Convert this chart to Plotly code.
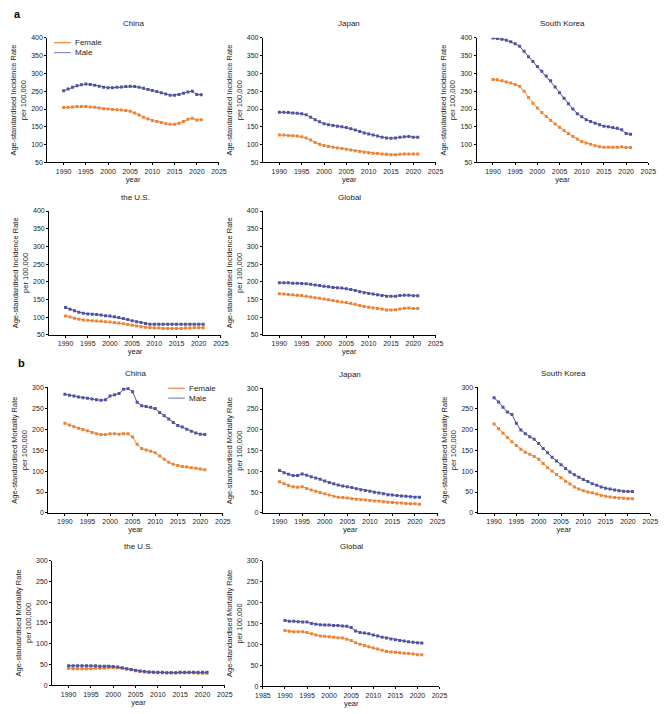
import plotly.graph_objects as go

years = list(range(1990, 2022))

# ---- a: Age-standardised incidence rate ----
inc_china_f = [204, 205, 206, 207, 207, 207, 206, 205, 203, 201, 200, 199, 198, 197, 196, 194,
               189, 183, 177, 172, 168, 165, 162, 159, 157, 157, 160, 165, 171, 174, 169, 170]
inc_china_m = [251, 256, 261, 265, 268, 270, 269, 267, 264, 261, 260, 260, 261, 262, 263, 264,
               263, 261, 258, 255, 252, 249, 246, 242, 239, 239, 241, 244, 248, 250, 241, 240]
inc_japan_f = [127, 127, 126, 125, 124, 122, 119, 113, 106, 101, 98, 95, 93, 91, 89, 87,
               85, 83, 81, 79, 77, 76, 75, 74, 73, 72, 72, 73, 74, 74, 74, 74]
inc_japan_m = [191, 191, 190, 189, 188, 187, 184, 177, 170, 164, 159, 156, 154, 152, 150, 148,
               145, 141, 137, 133, 130, 127, 124, 121, 119, 118, 119, 121, 122, 123, 121, 121]
inc_korea_f = [283, 282, 279, 276, 273, 269, 264, 250, 232, 216, 203, 190, 179, 168, 158, 149,
               140, 131, 123, 116, 109, 105, 101, 97, 94, 93, 93, 93, 93, 94, 92, 92]
inc_korea_m = [399, 398, 396, 393, 389, 383, 376, 362, 347, 333, 319, 306, 293, 279, 262, 246,
               230, 215, 200, 187, 178, 170, 165, 160, 156, 152, 150, 148, 146, 142, 131, 129]
inc_us_f = [103, 100, 97, 94, 92, 91, 90, 89, 88, 87, 86, 85, 83, 81, 79, 77,
            75, 73, 71, 70, 69, 69, 68, 68, 68, 68, 68, 69, 69, 70, 70, 70]
inc_us_m = [127, 122, 118, 114, 111, 109, 108, 107, 106, 104, 103, 101, 99, 96, 93, 90,
            87, 85, 82, 80, 80, 80, 80, 80, 80, 80, 80, 80, 80, 80, 80, 80]
inc_global_f = [166, 165, 164, 163, 162, 161, 159, 157, 155, 153, 151, 149, 147, 145, 143, 141,
                139, 136, 133, 130, 128, 126, 124, 122, 120, 120, 121, 123, 125, 126, 124, 124]
inc_global_m = [197, 197, 197, 196, 196, 195, 194, 193, 191, 189, 187, 186, 184, 183, 182, 180,
                178, 175, 172, 169, 167, 165, 163, 161, 159, 159, 159, 161, 162, 162, 160, 160]

# ---- b: Age-standardised mortality rate ----
mor_china_f = [214, 210, 206, 202, 199, 196, 192, 189, 187, 187, 189, 189, 188, 189, 189, 181,
               164, 154, 150, 147, 144, 136, 128, 121, 116, 113, 111, 110, 108, 107, 105, 103]
mor_china_m = [283, 281, 279, 277, 275, 274, 272, 270, 269, 270, 279, 282, 285, 295, 297, 289,
               264, 256, 254, 252, 249, 240, 232, 224, 216, 209, 205, 200, 195, 191, 188, 187]
mor_japan_f = [75, 70, 66, 63, 62, 63, 59, 55, 52, 49, 46, 43, 40, 38, 37, 36,
               34, 33, 32, 31, 30, 29, 28, 27, 26, 25, 24, 24, 23, 22, 22, 21]
mor_japan_m = [102, 97, 93, 90, 90, 94, 91, 87, 84, 81, 77, 73, 70, 67, 65, 63,
               61, 58, 56, 54, 52, 50, 48, 46, 44, 43, 42, 41, 40, 39, 38, 38]
mor_korea_f = [212, 201, 190, 180, 170, 161, 152, 145, 140, 135, 128, 118, 108, 100, 92, 84,
               76, 69, 62, 57, 53, 50, 48, 45, 42, 40, 38, 37, 36, 35, 34, 34]
mor_korea_m = [275, 265, 252, 241, 235, 214, 198, 189, 182, 176, 166, 154, 144, 133, 124, 115,
               106, 98, 91, 85, 80, 75, 70, 66, 62, 59, 57, 55, 53, 52, 51, 51]
mor_us_f = [41, 40, 40, 40, 40, 40, 41, 41, 41, 42, 42, 42, 41, 39, 37, 35,
            33, 32, 31, 31, 30, 30, 30, 30, 30, 30, 30, 30, 30, 29, 29, 29]
mor_us_m = [47, 47, 47, 47, 47, 47, 47, 46, 46, 46, 45, 44, 42, 40, 38, 36,
            34, 33, 32, 31, 31, 31, 30, 30, 30, 31, 31, 31, 31, 31, 31, 31]
mor_global_f = [133, 131, 130, 130, 130, 128, 125, 122, 120, 119, 118, 117, 116, 115, 112, 109,
                104, 100, 97, 94, 91, 89, 86, 83, 82, 81, 80, 79, 78, 77, 75, 75]
mor_global_m = [157, 155, 155, 154, 153, 153, 150, 148, 147, 146, 146, 145, 145, 144, 143, 140,
                132, 128, 127, 125, 122, 120, 117, 115, 113, 111, 109, 108, 106, 105, 104, 103]

titles = ["China", "Japan", "South Korea", "the U.S.", "Global",
          "China", "Japan", "South Korea", "the U.S.", "Global"]
female_series = [inc_china_f, inc_japan_f, inc_korea_f, inc_us_f, inc_global_f,
                 mor_china_f, mor_japan_f, mor_korea_f, mor_us_f, mor_global_f]
male_series = [inc_china_m, inc_japan_m, inc_korea_m, inc_us_m, inc_global_m,
               mor_china_m, mor_japan_m, mor_korea_m, mor_us_m, mor_global_m]
legend_names = ["Female", "Male"]
inc_ticks = [50, 100, 150, 200, 250, 300, 350, 400]
mor_ticks = [0, 50, 100, 150, 200, 250, 300]
year_ticks = [1985, 1990, 1995, 2000, 2005, 2010, 2015, 2020, 2025]

# page has an 8px body margin; size figure to fit the 669x714 window
OFF = 8
W, H = 669 - OFF, 714 - OFF
ORANGE = "#EC8436"
BLUE = "#50539E"
LEG_BLUE = "#8487BE"
FONT = "Liberation Sans, Arial, sans-serif"
TXT = "#222222"


def px(x):
    return (x - OFF) / W


def py(y):
    return 1 - (y - OFF) / H


# pixel boxes in window coordinates (left, right, top, bottom)
boxes = [
    (40, 216, 34, 160), (261, 438, 34, 160), (480, 656, 34, 160),
    (42, 218, 209, 334), (261, 438, 209, 334),
    (41, 220, 387, 514), (261, 440, 388, 514), (481, 658, 387, 514),
    (45, 222, 562, 688), (261, 442, 562, 689),
]

fig = go.Figure()
layout = dict(
    width=W, height=H, margin=dict(l=0, r=0, t=0, b=0),
    paper_bgcolor="white", plot_bgcolor="white",
    font=dict(family=FONT, size=7, color=TXT),
    showlegend=False,
)
annotations = []
shapes = []

for i in range(10):
    n = i + 1
    xa = "x" if n == 1 else f"x{n}"
    ya = "y" if n == 1 else f"y{n}"
    l, r, t, b = boxes[i]
    is_inc = i < 5
    fig.add_trace(go.Scatter(x=years, y=female_series[i], xaxis=xa, yaxis=ya,
                             mode="lines+markers", line=dict(color=ORANGE, width=1),
                             marker=dict(color=ORANGE, size=3, symbol="square"),
                             name="Female"))
    fig.add_trace(go.Scatter(x=years, y=male_series[i], xaxis=xa, yaxis=ya,
                             mode="lines+markers", line=dict(color=BLUE, width=1),
                             marker=dict(color=BLUE, size=3, symbol="square"),
                             name="Male"))
    xr = [1985, 2025] if i == 9 else [1986.3, 2025]
    xt = year_ticks if i == 9 else year_ticks[1:]
    layout[f"xaxis{n}"] = dict(
        domain=[px(l), px(r)], anchor=ya, range=xr, tickvals=xt,
        showline=True, linecolor="black", linewidth=1, ticks="outside", ticklen=2,
        tickcolor="black", tickfont=dict(size=7, color=TXT), showgrid=False, zeroline=False,
        title=dict(text="year", font=dict(size=7.5, color=TXT), standoff=2),
    )
    layout[f"yaxis{n}"] = dict(
        domain=[py(b), py(t)], anchor=xa,
        range=[50, 400] if is_inc else [0, 300],
        tickvals=inc_ticks if is_inc else mor_ticks,
        showline=True, linecolor="black", linewidth=1, ticks="outside", ticklen=2,
        tickcolor="black", tickfont=dict(size=7, color=TXT), showgrid=False, zeroline=False,
        title=dict(text=("Age-standardised Incidence Rate" if is_inc else
                         "Age-standardised Mortality Rate") + "<br>per 100,000",
                   font=dict(size=7.5, color=TXT), standoff=3),
    )
    annotations.append(dict(text=titles[i], x=px((l + r) / 2), y=py(t - 14),
                            xref="paper", yref="paper", showarrow=False,
                            font=dict(size=8, color=TXT), xanchor="center", yanchor="middle"))

# legends (line-only keys) for panel a China and panel b China
for (lx, ly) in [(47, 39), (164, 388)]:
    for k, (nm, col) in enumerate(zip(legend_names, [ORANGE, LEG_BLUE])):
        yy = ly + 10 * k
        shapes.append(dict(type="line", xref="paper", yref="paper",
                           x0=px(lx), x1=px(lx + 17), y0=py(yy), y1=py(yy),
                           line=dict(color=col, width=1.2)))
        annotations.append(dict(text=nm, x=px(lx + 19), y=py(yy), xref="paper", yref="paper",
                                showarrow=False, font=dict(size=8, color=TXT),
                                xanchor="left", yanchor="middle"))

annotations.append(dict(text="<b>a</b>", x=px(4), y=py(10), xref="paper", yref="paper",
                        showarrow=False, font=dict(size=11, color="black"),
                        xanchor="left", yanchor="middle"))
annotations.append(dict(text="<b>b</b>", x=px(8), y=py(363), xref="paper", yref="paper",
                        showarrow=False, font=dict(size=11, color="black"),
                        xanchor="left", yanchor="middle"))
layout["annotations"] = annotations
layout["shapes"] = shapes
fig.update_layout(**layout)
fig.write_html("out.html")
